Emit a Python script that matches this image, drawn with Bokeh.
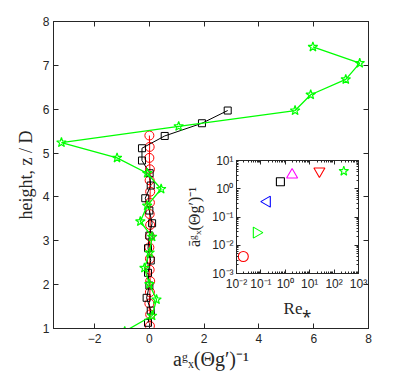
import math
from bokeh.plotting import figure
from bokeh.models import Range1d, LinearAxis, LogAxis, FixedTicker, LogTicker, CustomJSTickFormatter
from bokeh.layouts import column
from bokeh.embed import file_html
from bokeh.resources import INLINE

# ---- main panel data: horizontal acceleration profiles vs height ----
circle_x = [0.02, 0.03, 0.00, 0.02, 0.03, 0.01, 0.02, 0.00, 0.02, 0.03, 0.01, 0.02, 0.03, 0.01, 0.02, 0.00, 0.01, 0.00]
circle_z = [1.06, 1.32, 1.57, 1.83, 2.08, 2.34, 2.59, 2.85, 3.10, 3.36, 3.61, 3.87, 4.12, 4.38, 4.63, 4.89, 5.14, 5.40]

square_x = [-0.05, 0.05, -0.10, 0.00, -0.05, 0.05, -0.05, 0.00, 0.10, 0.00, -0.15, 0.05, 0.01, -0.27, -0.27, 0.56, 1.92, 2.86]
square_z = [1.13, 1.41, 1.70, 1.98, 2.27, 2.55, 2.83, 3.12, 3.40, 3.69, 3.97, 4.26, 4.54, 4.83, 5.11, 5.39, 5.68, 5.97]

star_x = [-0.90, 0.10, 0.26, 0.00, -0.18, 0.01, 0.10, -0.33, -0.08, 0.43, -0.08, -1.18, -3.21, 1.07, 5.32, 5.89, 7.17, 7.68, 5.97]
star_z = [0.935, 1.29, 1.66, 2.01, 2.38, 2.73, 3.09, 3.44, 3.80, 4.18, 4.54, 4.89, 5.24, 5.61, 5.97, 6.33, 6.68, 7.05, 7.42]

x_ticks = [-2, 0, 2, 4, 6, 8]
y_ticks = [1, 2, 3, 4, 5, 6, 7, 8]

# ---- inset data: mean acceleration vs particle Reynolds number ----
inset_re = [0.019, 0.066, 0.18, 0.63, 1.9, 25.0, 250.0]
inset_a = [0.004, 0.028, 0.35, 1.77, 3.1, 4.2, 4.2]
inset_markers = ["circle", "triangle", "triangle", "square", "triangle", "inverted_triangle", "star"]
inset_colors = ["#FF0000", "#00FF00", "#0000FF", "#000000", "#FF00FF", "#FF0000", "#00FF00"]
inset_angles = [0.0, -math.pi / 2, math.pi / 2, 0.0, 0.0, 0.0, 0.0]
inset_sizes = [10, 11, 11, 8, 11, 11, 10]

AX = "#262626"
TICK_FONT = "Liberation Sans"
LABEL_FONT = "Liberation Serif"

blank = CustomJSTickFormatter(code="return '';")

p = figure(frame_width=315, frame_height=307, x_range=Range1d(-3.5, 8), y_range=Range1d(1, 8),
           output_backend="svg", toolbar_location=None,
           min_border_left=53, min_border_right=27, min_border_top=21, min_border_bottom=45)
p.xgrid.visible = False
p.ygrid.visible = False
p.outline_line_color = AX
p.outline_line_width = 1

def style_axis(ax, ticks, show_labels=True):
    ax.ticker = FixedTicker(ticks=ticks)
    ax.axis_line_color = AX
    ax.major_tick_line_color = AX
    ax.major_tick_in = 5
    ax.major_tick_out = 0
    ax.minor_tick_line_color = None
    ax.major_label_text_font = TICK_FONT
    ax.major_label_text_font_size = "12px"
    ax.major_label_text_color = AX
    ax.major_label_standoff = 5 if show_labels else 0
    if not show_labels:
        ax.formatter = blank

style_axis(p.xaxis[0], x_ticks)
style_axis(p.yaxis[0], y_ticks)
p.yaxis[0].major_label_standoff = 4
p.xaxis[0].axis_label = "aᵍₓ(Θg′)⁻¹"
p.yaxis[0].axis_label = "height, z / D"
for ax in (p.xaxis[0], p.yaxis[0]):
    ax.axis_label_text_font = LABEL_FONT
    ax.axis_label_text_font_size = "18px"
    ax.axis_label_text_font_style = "normal"
    ax.axis_label_text_color = AX
p.xaxis[0].axis_label_text_font_size = "20px"
p.xaxis[0].axis_label_standoff = 2
p.yaxis[0].axis_label_standoff = 4

top_ax = LinearAxis()
style_axis(top_ax, x_ticks, show_labels=False)
p.add_layout(top_ax, "above")
right_ax = LinearAxis()
style_axis(right_ax, y_ticks, show_labels=False)
p.add_layout(right_ax, "right")

p.line(circle_x, circle_z, line_color="#FF0000", line_width=1)
p.scatter(circle_x, circle_z, marker="circle", size=9, line_color="#FF0000", fill_color=None)
p.line(square_x, square_z, line_color="#000000", line_width=1)
p.scatter(square_x, square_z, marker="square", size=7, line_color="#000000", fill_color=None)
p.line(star_x, star_z, line_color="#00FF00", line_width=1.3)
p.scatter(star_x, star_z, marker="star", size=10, line_color="#00FF00", fill_color=None, line_width=1.2)

# ---- inset ----
sup_code = """
const e = Math.round(Math.log10(tick));
const sup = {'-':'\u207B','0':'\u2070','1':'\u00B9','2':'\u00B2','3':'\u00B3','4':'\u2074','5':'\u2075','6':'\u2076','7':'\u2077','8':'\u2078','9':'\u2079'};
return '10' + String(e).split('').map(c => sup[c]).join('');
"""

# left border equal to the main plot's, since a column aligns the plot borders
inset = figure(frame_width=122, frame_height=113, x_axis_type="log", y_axis_type="log",
               x_range=Range1d(1e-2, 1e3), y_range=Range1d(1e-3, 1e1),
               output_backend="svg", toolbar_location=None,
               min_border_left=53, min_border_right=12, min_border_top=12, min_border_bottom=50)
inset.xgrid.visible = False
inset.ygrid.visible = False
inset.outline_line_color = AX
inset.border_fill_alpha = 0
inset.background_fill_color = "white"

def style_log_axis(ax, show_labels=True):
    ax.ticker = LogTicker(num_minor_ticks=10)
    ax.axis_line_color = AX
    ax.major_tick_line_color = AX
    ax.minor_tick_line_color = AX
    ax.major_tick_in = 4
    ax.major_tick_out = 0
    ax.minor_tick_in = 2
    ax.minor_tick_out = 0
    ax.major_label_text_font = TICK_FONT
    ax.major_label_text_font_size = "12px"
    ax.major_label_text_color = AX
    ax.major_label_standoff = 3 if show_labels else 0
    ax.formatter = CustomJSTickFormatter(code=sup_code) if show_labels else blank

style_log_axis(inset.xaxis[0])
style_log_axis(inset.yaxis[0])
inset.xaxis[0].axis_label = "Re⁎"
inset.yaxis[0].axis_label = "āᵍₓ(Θg′)⁻¹"
for ax in (inset.xaxis[0], inset.yaxis[0]):
    ax.axis_label_text_font = LABEL_FONT
    ax.axis_label_text_font_size = "16px"
    ax.axis_label_text_font_style = "normal"
    ax.axis_label_text_color = AX
    ax.axis_label_standoff = 6
inset.xaxis[0].axis_label_standoff = 5
inset.xaxis[0].axis_label_text_font_size = "17px"

it = LogAxis()
style_log_axis(it, show_labels=False)
inset.add_layout(it, "above")
ir = LogAxis()
style_log_axis(ir, show_labels=False)
inset.add_layout(ir, "right")

for re_, a_, m_, c_, ang, s_ in zip(inset_re, inset_a, inset_markers, inset_colors, inset_angles, inset_sizes):
    inset.scatter([re_], [a_], marker=m_, size=s_, angle=ang, line_color=c_, fill_color=None, line_width=1.1)

inset.styles = {"position": "absolute", "left": "183px", "top": "148px"}

layout = column(p, inset)
open("out.html", "w").write(file_html(layout, INLINE))
